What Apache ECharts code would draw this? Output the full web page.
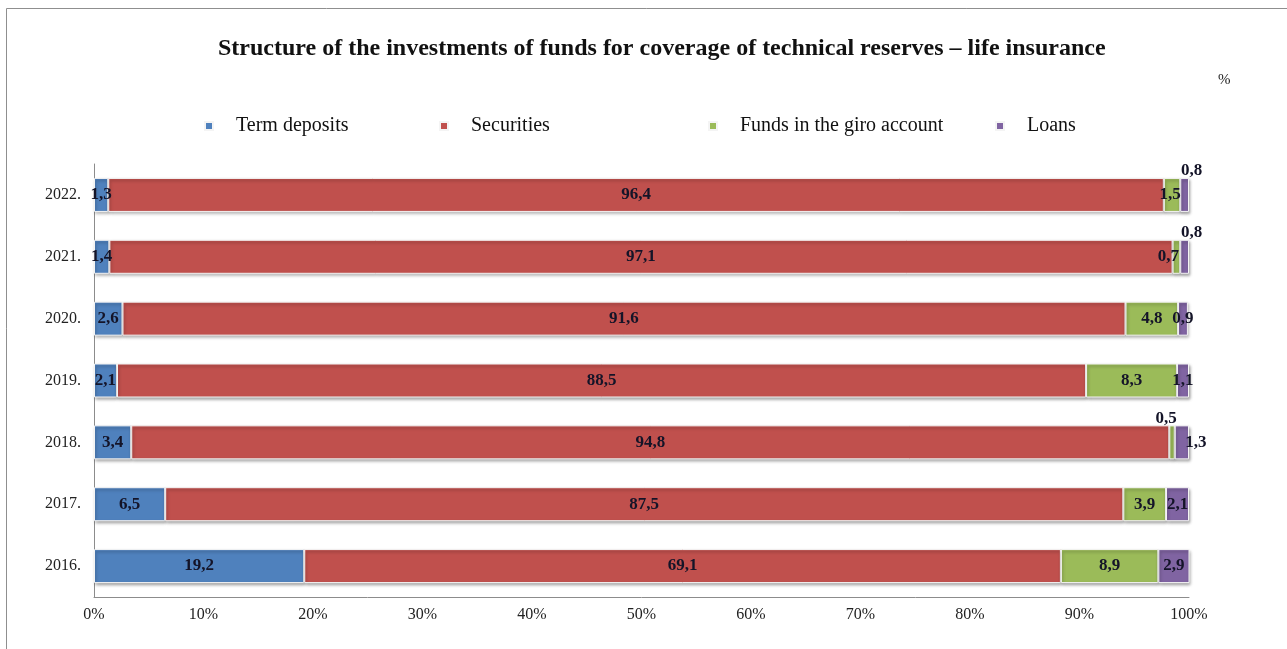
<!DOCTYPE html>
<html>
<head>
<meta charset="utf-8">
<title>Structure of the investments of funds for coverage of technical reserves – life insurance</title>
<script src="https://cdn.jsdelivr.net/npm/echarts@6/dist/echarts.min.js"></script>
<style>
  html, body { margin: 0; padding: 0; background: #fff; }
  #chart { width: 1287px; height: 649px; }
</style>
</head>
<body>
<div id="chart"></div>
<script>
// Years, bottom to top
const years = ['2016.', '2017.', '2018.', '2019.', '2020.', '2021.', '2022.'];

// Shares of each investment type, in %
const termDeposits = [19.2, 6.5, 3.4, 2.1, 2.6, 1.4, 1.3];
const securities   = [69.1, 87.5, 94.8, 88.5, 91.6, 97.1, 96.4];
const giroFunds    = [8.9, 3.9, 0.5, 8.3, 4.8, 0.7, 1.5];
const loans        = [2.9, 2.1, 1.3, 1.1, 0.9, 0.8, 0.8];

const seriesNames = ['Term deposits', 'Securities', 'Funds in the giro account', 'Loans'];
const seriesValues = [termDeposits, securities, giroFunds, loans];
const colors = ['#4F81BD', '#C0504D', '#9BBB59', '#8064A2'];

// x-axis tick labels
const xTicks = [0, 10, 20, 30, 40, 50, 60, 70, 80, 90, 100];

const serif = '"Liberation Serif", "Times New Roman", serif';

// Labels of the thin segments are moved off the bar so they stay readable
const labelTweaks = {
  'Loans|2022.': { position: 'top', distance: 0, offset: [7, 1] },
  'Loans|2021.': { position: 'top', distance: 0, offset: [7, 1] },
  'Funds in the giro account|2018.': { position: 'top', distance: 0, offset: [-6, 2] },
  'Loans|2018.': { position: 'inside', offset: [14, 0] },
  'Funds in the giro account|2021.': { position: 'inside', offset: [-8, 0] },
  'Funds in the giro account|2022.': { position: 'inside', offset: [-2, 0] }
};

const fmt = v => v.toFixed(1).replace('.', ',');

const series = seriesNames.map((name, i) => ({
  name,
  type: 'bar',
  stack: 'total',
  barWidth: 34,
  itemStyle: {
    color: colors[i],
    borderColor: '#f4f4f4',
    borderWidth: 1,
    shadowColor: 'rgba(0,0,0,0.35)',
    shadowBlur: 3,
    shadowOffsetX: 1,
    shadowOffsetY: 2
  },
  label: {
    show: true,
    position: 'inside',
    formatter: p => fmt(p.value),
    fontFamily: serif,
    fontWeight: 'bold',
    fontSize: 17,
    color: '#141428'
  },
  data: seriesValues[i].map((v, j) => {
    const t = labelTweaks[name + '|' + years[j]];
    return t ? { value: v, label: t } : v;
  })
}));

// One legend block per item so each can sit at its own spot
const legendLefts = [199, 434, 703, 990];
const legends = seriesNames.map((name, i) => ({
  data: [name],
  left: legendLefts[i],
  top: 111,
  icon: 'rect',
  itemWidth: 8,
  itemHeight: 8,
  selectedMode: false,
  textStyle: {
    fontFamily: serif,
    fontSize: 20,
    color: '#111',
    padding: [0, 0, 0, 18]
  }
}));

const chart = echarts.init(document.getElementById('chart'), null, { renderer: 'canvas' });

chart.setOption({
  animation: false,
  backgroundColor: '#ffffff',
  color: colors,
  title: {
    text: 'Structure of the investments of funds for coverage of technical reserves – life insurance',
    left: 213,
    top: 32,
    textStyle: {
      fontFamily: serif,
      fontWeight: 'bold',
      fontSize: 24,
      color: '#111'
    }
  },
  legend: legends,
  grid: { left: 94, right: 98, top: 164, bottom: 52, containLabel: false },
  xAxis: {
    type: 'value',
    min: xTicks[0],
    max: xTicks[xTicks.length - 1],
    interval: xTicks[1] - xTicks[0],
    axisLine: { show: true, lineStyle: { color: '#8c8c8c', width: 1 } },
    axisTick: { show: false },
    splitLine: { show: false },
    axisLabel: {
      formatter: '{value}%',
      margin: 10,
      fontFamily: serif,
      fontSize: 16,
      color: '#222'
    }
  },
  yAxis: {
    type: 'category',
    data: years,
    axisLine: { show: true, lineStyle: { color: '#8c8c8c', width: 1 } },
    axisTick: { show: false },
    axisLabel: {
      margin: 13,
      fontFamily: serif,
      fontSize: 16,
      color: '#222'
    }
  },
  graphic: [
    {
      type: 'text',
      left: 1218,
      top: 73,
      style: { text: '%', font: '15px ' + serif, fill: '#222' }
    },
    {
      type: 'line',
      shape: { x1: 6.5, y1: 8.5, x2: 1287, y2: 8.5 },
      style: { stroke: '#8f8f8f', lineWidth: 1 }
    },
    {
      type: 'line',
      shape: { x1: 6.5, y1: 8.5, x2: 6.5, y2: 649 },
      style: { stroke: '#8f8f8f', lineWidth: 1 }
    }
  ],
  series
});
</script>
</body>
</html>
